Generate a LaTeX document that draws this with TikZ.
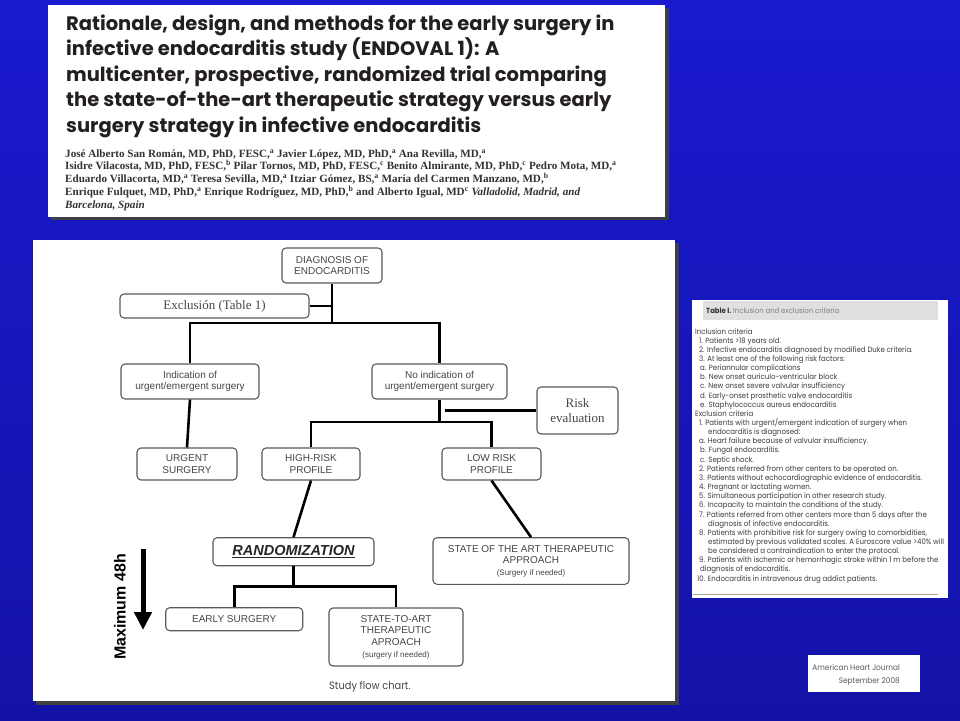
\documentclass[tikz,border=0pt]{standalone}
\usepackage{fontspec}
\setmainfont{Liberation Serif}
\setsansfont{Liberation Sans}
\newfontfamily\geofont{Poppins}
\newfontfamily\geonarrow[FakeStretch=0.92]{Poppins}
\usepackage{tikz}
\usetikzlibrary{arrows.meta, positioning}

\definecolor{slidetop}{RGB}{30,30,228}
\definecolor{slidemid}{RGB}{18,18,165}
\definecolor{slidelow}{RGB}{5,5,62}
\definecolor{slidebot}{RGB}{0,0,22}
\definecolor{inkgray}{RGB}{70,70,70}
\definecolor{boxline}{RGB}{90,90,90}
\definecolor{titleink}{RGB}{35,31,32}
\definecolor{tableink}{RGB}{60,60,60}

\pgfdeclareverticalshading{slidebg}{100bp}{color(0bp)=(slidebot); color(10bp)=(slidelow); color(23bp)=(slidemid); color(100bp)=(slidetop)}

\tikzset{
  flowbox/.style={draw=boxline, line width=1.1pt, rounded corners=4pt, fill=white,
    text=inkgray, align=center, inner sep=1pt,
    font=\sffamily\fontsize{10}{11.6}\selectfont},
  serifbox/.style={flowbox, font=\rmfamily\fontsize{13}{14.7}\selectfont},
  link/.style={line width=2.6pt, black},
  titleline/.style={anchor=base west, inner sep=0pt, text=titleink,
    font=\geofont\bfseries\fontsize{19.5}{22}\selectfont},
  authorline/.style={anchor=base west, inner sep=0pt, text=black!80,
    font=\rmfamily\bfseries\fontsize{11.1}{13}\selectfont},
  tableline/.style={anchor=base west, inner sep=0pt, text=tableink,
    font=\geonarrow\fontsize{7.6}{8}\selectfont},
}

\begin{document}
\begin{tikzpicture}[x=1pt, y=-1pt, >={Triangle[width=17pt,length=18pt]}]
  % slide background and panels
  \useasboundingbox (0,0) rectangle (960,720);
  \shade[shading=slidebg] (0,0) rectangle (960,720);
  \fill[black!75] (51,8) rectangle (669,220);
  \fill[white] (48,5) rectangle (665,217);
  \fill[black!75] (36,243) rectangle (679,705);
  \fill[white] (33,240) rectangle (675,701);
  \fill[white] (692,300) rectangle (948,598);
  \fill[white] (808,655) rectangle (920,692);

  % article header
  \foreach \txt [count=\i] in {{Rationale, design, and methods for the early surgery in},
      {infective endocarditis study (ENDOVAL 1): A},
      {multicenter, prospective, randomized trial comparing},
      {the state-of-the-art therapeutic strategy versus early},
      {surgery strategy in infective endocarditis}}
    \node[titleline] (title\i) at (66,{30+25.5*(\i-1)}) {\txt};

  \foreach \txt [count=\i] in {{José Alberto San Román, MD, PhD, FESC,\textsuperscript{a} Javier López, MD, PhD,\textsuperscript{a} Ana Revilla, MD,\textsuperscript{a}},
      {Isidre Vilacosta, MD, PhD, FESC,\textsuperscript{b} Pilar Tornos, MD, PhD, FESC,\textsuperscript{c} Benito Almirante, MD, PhD,\textsuperscript{c} Pedro Mota, MD,\textsuperscript{a}},
      {Eduardo Villacorta, MD,\textsuperscript{a} Teresa Sevilla, MD,\textsuperscript{a} Itziar Gómez, BS,\textsuperscript{a} María del Carmen Manzano, MD,\textsuperscript{b}},
      {Enrique Fulquet, MD, PhD,\textsuperscript{a} Enrique Rodríguez, MD, PhD,\textsuperscript{b} and Alberto Igual, MD\textsuperscript{c} \textit{Valladolid, Madrid, and}},
      {\textit{Barcelona, Spain}}}
    \node[authorline] (author\i) at (65,{157+12.8*(\i-1)}) {\txt};

  % flow chart
  \node[flowbox, minimum width=100pt, minimum height=35pt] (diagnosis) at (332,265.5) {DIAGNOSIS OF\\ENDOCARDITIS};
  \node[serifbox, minimum width=189pt, minimum height=24pt] (exclusion) at (214.5,306) {Exclusión (Table 1)};
  \node[flowbox, minimum width=138pt, minimum height=35pt] (indication) at (190,381.5) {Indication of\\urgent/emergent surgery};
  \node[flowbox, minimum width=135pt, minimum height=35pt] (noindication) at (439.5,381.5) {No indication of\\urgent/emergent surgery};
  \node[serifbox, minimum width=81pt, minimum height=47pt] (riskeval) at (577.5,410.5) {Risk\\evaluation};
  \node[flowbox, minimum width=100pt, minimum height=32pt] (urgent) at (187,464) {URGENT\\SURGERY};
  \node[flowbox, minimum width=98pt, minimum height=32pt] (highrisk) at (311,464) {HIGH-RISK\\PROFILE};
  \node[flowbox, minimum width=99pt, minimum height=32pt] (lowrisk) at (491.5,464) {LOW RISK\\PROFILE};
  \node[flowbox, minimum width=161pt, minimum height=28pt, text=black!85,
    font=\sffamily\bfseries\itshape\fontsize{14.5}{16}\selectfont] (randomization) at (293.5,551.7) {\underline{RANDOMIZATION}};
  \node[flowbox, minimum width=196pt, minimum height=46.6pt] (stateart) at (531,561)
    {STATE OF THE ART THERAPEUTIC\\APPROACH\\{\fontsize{8}{10}\selectfont (Surgery if needed)}};
  \node[flowbox, minimum width=137pt, minimum height=23pt] (early) at (234.2,619.2) {EARLY SURGERY};
  \node[flowbox, minimum width=134pt, minimum height=58pt] (statetoart) at (396,637)
    {STATE-TO-ART\\THERAPEUTIC\\APROACH\\{\fontsize{8}{10}\selectfont (surgery if needed)}};

  \coordinate (split) at (332,323);
  \coordinate (profilesplit) at (439.5,422);
  \coordinate (armsplit) at (293.5,586.7);
  \draw[link] (diagnosis.south) -- (split);
  \draw[link] (exclusion.east) -- (exclusion.east -| split);
  \draw[link] (indication.north) |- (split) -| (noindication.north);
  \draw[link] (indication.south) -- (urgent.north);
  \draw[link] (noindication.south) -- (profilesplit);
  \draw[link] (highrisk.north) |- (profilesplit) -| (lowrisk.north);
  \draw[link] ([xshift=5pt]riskeval.west -| profilesplit) -- (riskeval.west);
  \draw[link] (highrisk.south) -- (randomization.north);
  \draw[link] (lowrisk.south) -- (stateart.north);
  \draw[link] (randomization.south) -- (armsplit);
  \draw[link] (early.north) |- (armsplit) -| (statetoart.north);

  \coordinate (arrowtop) at (143,549);
  \coordinate (arrowtip) at (143,630);
  \draw[line width=5pt, ->] (arrowtop) -- (arrowtip);
  \node[rotate=90, font=\sffamily\bfseries\fontsize{16}{16}\selectfont] (maxtime) at (120,607) {Maximum 48h};
  \node[anchor=base west, inner sep=0pt, text=inkgray, font=\geonarrow\fontsize{10.7}{12}\selectfont] (caption) at (329,689) {Study flow chart.};

  % table of criteria
  \fill[black!12] (703,301) rectangle (938,320);
  \node[anchor=base west, inner sep=0pt, font=\geonarrow\fontsize{7.5}{8}\selectfont] (tablehead) at (706,313.5)
    {\textbf{\color{black!80}Table I.} \color{black!50}Inclusion and exclusion criteria};
  \foreach \x/\txt [count=\i] in {695/Inclusion criteria,
      699/{1. Patients >18 years old.},
      699/{2. Infective endocarditis diagnosed by modified Duke criteria.},
      699/{3. At least one of the following risk factors:},
      700/{a. Periannular complications},
      700/{b. New onset auriculo-ventricular block},
      700/{c. New onset severe valvular insufficiency},
      700/{d. Early-onset prosthetic valve endocarditis},
      700/{e. Staphylococcus aureus endocarditis},
      695/Exclusion criteria,
      699/{1. Patients with urgent/emergent indication of surgery when},
      708/{endocarditis is diagnosed:},
      699/{a. Heart failure because of valvular insufficiency.},
      700/{b. Fungal endocarditis.},
      700/{c. Septic shock.},
      699/{2. Patients referred from other centers to be operated on.},
      699/{3. Patients without echocardiographic evidence of endocarditis.},
      699/{4. Pregnant or lactating women.},
      699/{5. Simultaneous participation in other research study.},
      699/{6. Incapacity to maintain the conditions of the study.},
      699/{7. Patients referred from other centers more than 5 days after the},
      708/{diagnosis of infective endocarditis.},
      699/{8. Patients with prohibitive risk for surgery owing to comorbidities,},
      708/{estimated by previous validated scales. A Euroscore value >40\% will},
      708/{be considered a contraindication to enter the protocol.},
      699/{9. Patients with ischemic or hemorrhagic stroke within 1 m before the},
      700/{diagnosis of endocarditis.},
      697/{10. Endocarditis in intravenous drug addict patients.}}
    \node[tableline] (crit\i) at (\x,{334+9.15*(\i-1)}) {\txt};
  \draw[black!35, line width=1pt] (693,594) -- (938,594);

  % journal reference
  \node[anchor=base east, inner sep=0pt, text=black!65,
    font=\geonarrow\fontsize{8}{13}\selectfont] (journal) at (900,670) {American Heart Journal};
  \node[anchor=base east, inner sep=0pt, text=black!65,
    font=\geonarrow\fontsize{8}{13}\selectfont] (issue) at (900,683) {September 2008};
\end{tikzpicture}
\end{document}
